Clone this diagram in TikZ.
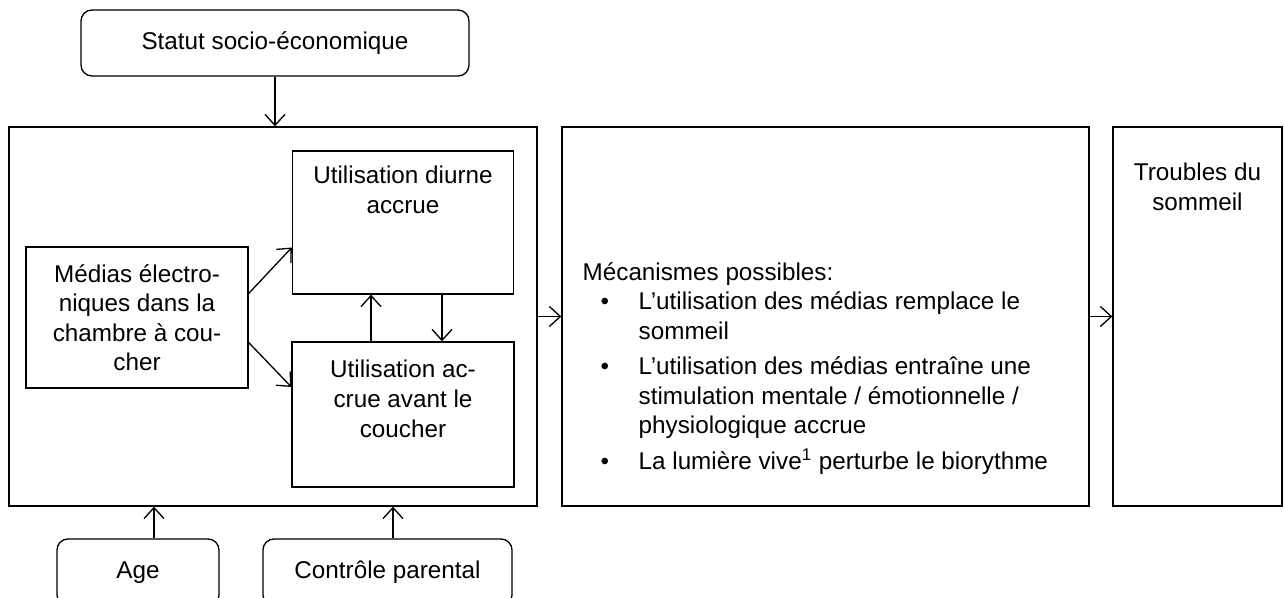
\documentclass[tikz,border=0pt]{standalone}
\usepackage{fontspec}
\setmainfont{Liberation Sans}
\usetikzlibrary{arrows.meta, positioning}

\begin{document}
\begin{tikzpicture}[
        every node/.style={font=\fontsize{13.8}{16.8}\selectfont},
        box/.style={draw, line width=0.75pt},
        round box/.style={box, rounded corners=0.22cm},
        txt/.style={inner sep=0pt, align=center},
        arr/.style={-{Straight Barb[length=0.22cm, width=0.4cm]}, line width=0.75pt}
        ]
        \useasboundingbox (0,0) rectangle (25.68,11.96);

        % influences from outside
        \node[round box, minimum width=7.76cm, minimum height=1.32cm] (statut) at (5.5, 11.1) {Statut socio-économique};
        \node[round box, minimum width=3.24cm, minimum height=1.34cm] (age) at (2.76, 0.51) {Age};
        \node[round box, minimum width=4.98cm, minimum height=1.34cm] (parent) at (7.75, 0.51) {Contrôle parental};

        % media use
        \node[box, minimum width=10.56cm, minimum height=7.58cm] (ctx) at (5.46, 5.63) {};
        \node[box, txt, minimum width=4.44cm, minimum height=2.82cm] (medias) at (2.74, 5.61) {Médias électro-\\niques dans la\\chambre à cou-\\cher};

        \node[box, minimum width=4.42cm, minimum height=2.86cm] (daytime) at (8.06, 7.51) {};
        \node[txt, below=0.3cm of daytime.north, font=\fontsize{13.8}{17}\selectfont] (daytxt) {Utilisation diurne\\accrue};

        \node[box, minimum width=4.44cm, minimum height=2.9cm] (bedtime) at (8.06, 3.67) {};
        \node[txt, below=0.36cm of bedtime.north, font=\fontsize{13.8}{17}\selectfont] (bedtxt) {Utilisation ac-\\crue avant le\\coucher};

        % mechanisms
        \node[box, minimum width=10.54cm, minimum height=7.58cm] (mech) at (16.51, 5.63) {};
        \node[anchor=north west, inner sep=0pt, below right=2.66cm and 0.42cm of mech.north west, font=\fontsize{13.8}{16.8}\selectfont] (mechtxt) {%
            \begin{tabular}{@{}p{1.12cm}@{}l@{}}
            \multicolumn{2}{@{}l@{}}{Mécanismes possibles:}\\
            \hspace*{0.36cm}\textbullet & L’utilisation des médias remplace le\\
             & sommeil\\[0.12cm]
            \hspace*{0.36cm}\textbullet & L’utilisation des médias entraîne une\\
             & stimulation mentale / émotionnelle /\\
             & physiologique accrue\\[0.12cm]
            \hspace*{0.36cm}\textbullet & La lumière vive\textsuperscript{1} perturbe le biorythme
            \end{tabular}};

        % outcome
        \node[box, minimum width=3.38cm, minimum height=7.58cm] (sleep) at (23.95, 5.63) {};
        \node[txt, below=0.72cm of sleep.north, font=\fontsize{13.8}{17}\selectfont] (sleeptxt) {Troubles du\\sommeil};

        \draw[arr] (statut.south) -- (statut.south |- ctx.north);
        \draw[arr] ([xshift=0.32cm]age.north) -- ([xshift=0.32cm]age.north |- ctx.south);
        \draw[arr] ([xshift=0.11cm]parent.north) -- ([xshift=0.11cm]parent.north |- ctx.south);

        \draw[arr] ([yshift=0.48cm]medias.east) -- ([yshift=-0.5cm]daytime.west);
        \draw[arr] ([yshift=-0.5cm]medias.east) -- ([yshift=0.55cm]bedtime.west);
        \draw[arr] ([xshift=-0.64cm]bedtime.north) -- ([xshift=-0.64cm]daytime.south);
        \draw[arr] ([xshift=0.78cm]daytime.south) -- ([xshift=0.78cm]bedtime.north);

        \draw[arr] (ctx) -- (mech);
        \draw[arr] (mech) -- (sleep);
    \end{tikzpicture}
\end{document}
